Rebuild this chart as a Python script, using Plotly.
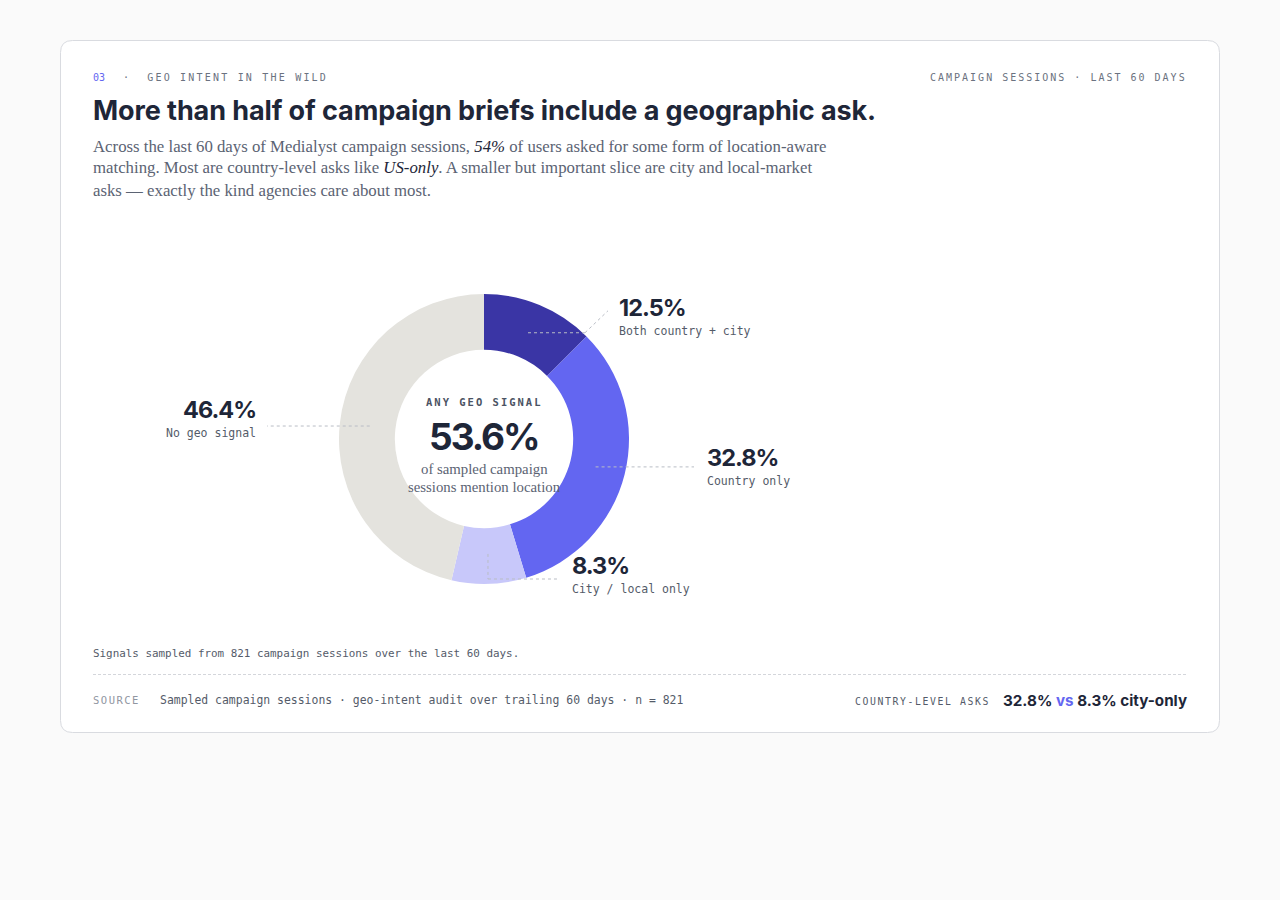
import math
import plotly.graph_objects as go

# ---- data ----
categories = ["Both country + city", "Country only", "City / local only", "No geo signal"]
values = [12.5, 32.8, 8.3, 46.4]
colors = ["#3a35a5", "#6366f1", "#c8c8fa", "#e4e3de"]
any_geo = 53.6
n_sessions = 821

W, H = 1280, 900
def px(x): return x / W
def py(y): return 1 - y / H

CX, CY, R_OUT = 484, 439, 145

fig = go.Figure()
fig.add_trace(go.Pie(
    labels=categories, values=values, sort=False, direction="clockwise", rotation=0,
    hole=0.615, marker=dict(colors=colors, line=dict(width=0)),
    textinfo="none", hoverinfo="label+value", showlegend=False,
    domain=dict(x=[px(CX - R_OUT), px(CX + R_OUT)], y=[py(CY + R_OUT), py(CY - R_OUT)]),
))

shapes = []
# card
x0, x1, y0, y1, r = 60.5, 1219.5, 40.5, 732.5, 12
path = (f"M {px(x0+r)},{py(y0)} L {px(x1-r)},{py(y0)} Q {px(x1)},{py(y0)} {px(x1)},{py(y0+r)} "
        f"L {px(x1)},{py(y1-r)} Q {px(x1)},{py(y1)} {px(x1-r)},{py(y1)} "
        f"L {px(x0+r)},{py(y1)} Q {px(x0)},{py(y1)} {px(x0)},{py(y1-r)} "
        f"L {px(x0)},{py(y0+r)} Q {px(x0)},{py(y0)} {px(x0+r)},{py(y0)} Z")
shapes.append(dict(type="path", xref="paper", yref="paper", path=path,
                   fillcolor="#ffffff", line=dict(color="#d9dbe0", width=1), layer="below"))
# divider
shapes.append(dict(type="line", xref="paper", yref="paper", x0=px(93), x1=px(1187), y0=py(674.5), y1=py(674.5),
                   line=dict(color="#d4d6db", width=1, dash="3px,2px")))

# leader anchors computed from slice mid-angles
total = sum(values)
anchors = []
cum = 0
R_MID = 115
for v in values:
    mid = (cum + v / 2) / total * 2 * math.pi
    anchors.append((CX + R_MID * math.sin(mid), CY - R_MID * math.cos(mid)))
    cum += v

LC = dict(color="#b9bdc5", width=1, dash="dot")
def seg(a, b):
    shapes.append(dict(type="line", xref="paper", yref="paper", x0=px(a[0]), y0=py(a[1]),
                       x1=px(b[0]), y1=py(b[1]), line=LC))

# Both
ax, ay = anchors[0]
seg((ax, ay), (585, ay)); seg((585, ay), (608, ay - 22))
# Country
ax, ay = anchors[1]
seg((ax, ay), (694, ay))
# City
ax, ay = anchors[2]
seg((ax, ay), (ax, 579)); seg((ax, 579), (560, 579))
# No geo
ax, ay = anchors[3]
seg((ax, ay), (267, ay))

ann = []
def text(x, y, t, size, color, family, xanchor="left", yanchor="middle", weight=None):
    d = dict(x=px(x), y=py(y), xref="paper", yref="paper", text=t, showarrow=False,
             xanchor=xanchor, yanchor=yanchor, align=xanchor if xanchor != "center" else "center",
             borderpad=0, borderwidth=0,
             font=dict(size=size, color=color, family=family))
    if weight:
        d["font"]["weight"] = weight
    ann.append(d)

MONO = "DejaVu Sans Mono"
SANS = "Inter"
SERIF = "Liberation Serif"
DARK = "#1e2638"
GRAY = "#6b7280"

def ls(t, sp):
    return f'<span style="letter-spacing:{sp}px">{t}</span>'

# header
text(93, 77, '<span style="color:#6366f1">03</span>   ·   ' + ls("GEO INTENT IN THE WILD", 2.2), 10, GRAY, MONO)
text(1187, 77, ls("CAMPAIGN SESSIONS · LAST 60 DAYS", 2.0), 10, GRAY, MONO, xanchor="right")
text(93, 111, ls("More than half of campaign briefs include a geographic ask.", -0.1), 27, DARK, SANS, weight=700)
body = [
    f'Across the last 60 days of Medialyst campaign sessions, <i><span style="color:{DARK}">54%</span></i> of users asked for some form of location-aware',
    f'matching. Most are country-level asks like <i><span style="color:{DARK}">US-only</span></i>. A smaller but important slice are city and local-market',
    'asks — exactly the kind agencies care about most.',
]
for i, line in enumerate(body):
    text(93, 146 + 22 * i, line, 16.8, "#5b6373", SERIF)

# centre
text(CX, 402, ls("ANY GEO SIGNAL", 2), 10.5, "#4b5363", MONO, xanchor="center", weight=700)
text(CX, 437, ls(f"{any_geo}%", -2), 37, DARK, SANS, xanchor="center", weight=700)
text(CX, 469, "of sampled campaign", 14.8, "#5b6373", SERIF, xanchor="center")
text(CX, 487, "sessions mention location", 14.8, "#5b6373", SERIF, xanchor="center")

# slice labels
def lab(x, y, idx, xanchor="left"):
    text(x, y, ls(f"{values[idx]}%", -1), 23.5, DARK, SANS, xanchor=xanchor, weight=700)
    text(x, y + 24, categories[idx], 11.5, "#545b69", MONO, xanchor=xanchor)

lab(619, 307, 0)
lab(707, 457, 1)
lab(572, 565, 2)
lab(256, 409, 3, xanchor="right")

# footer
text(93, 653, f"Signals sampled from {n_sessions} campaign sessions over the last 60 days.", 10.9, "#545b69", MONO)
text(93, 700, ls("SOURCE", 1.5), 10.5, "#9096a1", MONO)
text(160, 700, f"Sampled campaign sessions · geo-intent audit over trailing 60 days · n = {n_sessions}", 11.45, "#545b69", MONO)
text(1187, 700, f'{values[1]}% <span style="color:#6366f1">vs</span> {values[2]}% city-only', 15.2, DARK, SANS,
     xanchor="right", weight=700)
text(990, 701, ls("COUNTRY-LEVEL ASKS", 1.6), 9.8, "#545b69", MONO, xanchor="right")

fig.update_layout(
    width=W, height=H, margin=dict(l=0, r=0, t=0, b=0),
    paper_bgcolor="#fafafa", plot_bgcolor="#fafafa",
    shapes=shapes, annotations=ann,
)
fig.write_html("out.html", config={"displayModeBar": False})
